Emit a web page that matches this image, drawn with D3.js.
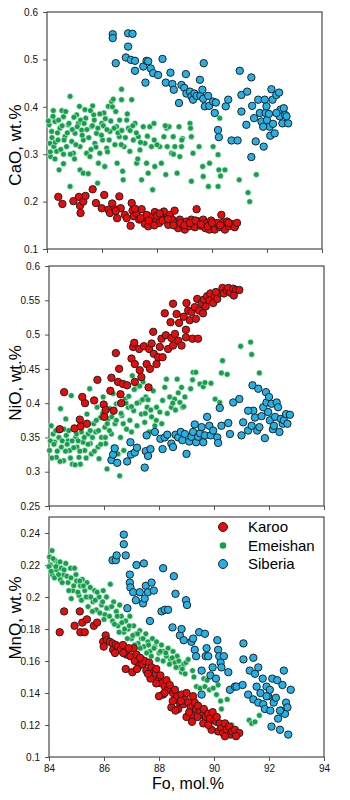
<!DOCTYPE html>
<html>
<head>
<meta charset="utf-8">
<script src="https://cdn.jsdelivr.net/npm/d3@7"></script>
<style>
  body { margin: 0; background: #fff; }
  svg { display: block; font-family: Arial, "Liberation Sans", sans-serif; }
  .axis text { font-size: 10px; fill: #111; }
  .axis line { stroke: #555; }
</style>
</head>
<body>
<div class="chart"></div>
<script>
// ---- data : [Fo mol.%, oxide wt.%] ----
const foTicks = [84, 86, 88, 90, 92, 94];
const caoTicks = [0.1, 0.2, 0.3, 0.4, 0.5, 0.6];
const nioTicks = [0.25, 0.3, 0.35, 0.4, 0.45, 0.5, 0.55, 0.6];
const mnoTicks = [0.1, 0.12, 0.14, 0.16, 0.18, 0.2, 0.22, 0.24];
const seriesNames = ['Karoo', 'Emeishan', 'Siberia'];

const karooCaO = [[84.41,0.21],[84.56,0.195],[84.96,0.201],[85.16,0.21],[85.2,0.191],[85.22,0.176],[85.32,0.2],[85.4,0.212],[85.66,0.226],[85.78,0.197],[85.99,0.186],[86.08,0.214],[86.23,0.183],[86.29,0.176],[86.37,0.196],[86.47,0.184],[86.55,0.165],[86.63,0.211],[86.68,0.186],[86.83,0.172],[87.04,0.149],[87.08,0.197],[87.11,0.181],[87.16,0.169],[87.26,0.176],[87.35,0.162],[87.44,0.184],[87.5,0.162],[87.56,0.153],[87.62,0.172],[87.68,0.148],[87.77,0.158],[87.84,0.169],[87.92,0.178],[87.98,0.162],[88.08,0.155],[88.16,0.169],[88.25,0.179],[88.32,0.162],[88.41,0.151],[88.47,0.172],[88.56,0.162],[88.64,0.181],[88.71,0.155],[88.77,0.144],[88.83,0.162],[88.93,0.151],[89.01,0.141],[89.07,0.158],[89.17,0.148],[89.25,0.162],[89.31,0.153],[89.38,0.146],[89.44,0.184],[89.52,0.158],[89.59,0.149],[89.68,0.162],[89.76,0.144],[89.82,0.155],[89.9,0.141],[89.97,0.16],[90.04,0.149],[90.1,0.141],[90.19,0.155],[90.28,0.146],[90.34,0.172],[90.4,0.156],[90.47,0.141],[90.55,0.158],[90.62,0.148],[90.71,0.153],[90.83,0.146],[90.91,0.155],[87.4,0.165],[87.7,0.16],[87.9,0.15],[88.0,0.17],[88.2,0.16],[88.4,0.163],[88.6,0.15],[88.85,0.155],[89.0,0.15],[89.2,0.155],[89.4,0.16],[89.6,0.152],[89.85,0.148],[90.0,0.155],[90.3,0.15],[90.6,0.155],[86.9,0.165],[87.2,0.185],[86.5,0.18],[88.1,0.175]];

const emeishanCaO = [[84.84,0.422],[84.08,0.362],[84.23,0.392],[84.2,0.379],[84.29,0.369],[84.17,0.348],[84.11,0.323],[84.25,0.316],[84.35,0.306],[84.13,0.295],[84.29,0.29],[84.44,0.267],[84.6,0.28],[84.47,0.355],[84.6,0.379],[84.54,0.392],[84.65,0.337],[84.71,0.316],[84.77,0.362],[84.84,0.232],[84.9,0.327],[84.96,0.302],[85.02,0.344],[85.08,0.383],[85.14,0.365],[85.18,0.401],[85.2,0.316],[85.26,0.351],[85.32,0.33],[85.38,0.394],[85.41,0.376],[85.44,0.302],[85.2,0.267],[85.32,0.26],[85.5,0.259],[85.56,0.295],[85.62,0.358],[85.66,0.402],[85.7,0.383],[85.8,0.344],[85.74,0.323],[85.84,0.239],[85.87,0.281],[85.92,0.302],[85.99,0.365],[86.02,0.33],[86.07,0.387],[86.1,0.274],[86.17,0.313],[86.23,0.401],[86.29,0.348],[86.35,0.411],[86.41,0.416],[86.47,0.32],[86.53,0.358],[86.55,0.281],[86.63,0.337],[86.71,0.437],[86.71,0.415],[86.75,0.264],[86.77,0.246],[86.8,0.316],[86.9,0.372],[86.96,0.355],[87.01,0.306],[87.08,0.415],[87.14,0.33],[87.2,0.365],[87.26,0.281],[87.32,0.337],[87.38,0.309],[87.44,0.246],[87.5,0.358],[87.56,0.323],[87.62,0.281],[87.68,0.26],[87.74,0.358],[87.8,0.316],[87.84,0.225],[87.89,0.365],[87.92,0.274],[88.1,0.316],[88.16,0.281],[88.25,0.337],[88.35,0.355],[88.37,0.316],[88.44,0.358],[88.32,0.257],[88.53,0.302],[88.59,0.337],[88.65,0.316],[88.73,0.26],[88.8,0.358],[88.83,0.295],[88.89,0.316],[88.93,0.333],[89.2,0.365],[89.22,0.355],[89.25,0.337],[89.25,0.243],[89.31,0.302],[89.53,0.316],[89.66,0.274],[89.68,0.253],[89.87,0.232],[89.91,0.281],[90.04,0.316],[90.22,0.299],[90.25,0.267],[90.28,0.376],[90.31,0.254],[90.22,0.232],[90.47,0.267],[90.99,0.246],[91.31,0.219],[91.37,0.2],[91.61,0.257],
  [84.05,0.37],[84.12,0.305],[84.18,0.335],[84.22,0.38],[84.3,0.325],[84.38,0.345],[84.42,0.372],[84.5,0.31],[84.55,0.36],[84.62,0.33],[84.68,0.39],[84.74,0.345],[84.8,0.365],[84.85,0.3],[84.92,0.352],[84.98,0.378],[85.05,0.32],[85.1,0.358],[85.22,0.372],[85.28,0.34],[85.35,0.365],[85.45,0.352],[85.52,0.335],[85.58,0.392],[85.65,0.36],[85.72,0.372],[85.78,0.315],[85.85,0.355],[85.92,0.385],[85.98,0.34],[86.05,0.36],[86.12,0.375],[86.18,0.352],[86.26,0.33],[86.32,0.37],[86.38,0.4],[86.44,0.355],[86.5,0.39],[86.58,0.345],[86.64,0.372],[86.72,0.35],[86.85,0.335],[86.92,0.385],[87.02,0.35],[87.12,0.36],[87.25,0.345],[87.4,0.325],[87.65,0.338],[88.0,0.32],[88.6,0.3],[88.9,0.33],[88.3,0.36],[84.6,0.3],[84.4,0.33],[85.0,0.29],[85.6,0.31],[86.2,0.305],[86.7,0.32],[87.3,0.29],[87.9,0.33]];

const siberiaCaO = [[86.39,0.553],[86.39,0.545],[86.5,0.492],[86.95,0.555],[87.11,0.554],[86.95,0.527],[86.87,0.504],[87.05,0.499],[87.2,0.497],[87.2,0.476],[87.5,0.485],[87.62,0.497],[87.68,0.496],[87.58,0.451],[87.77,0.481],[87.86,0.471],[88.04,0.467],[88.2,0.501],[88.32,0.451],[88.49,0.472],[88.56,0.448],[88.61,0.436],[88.8,0.408],[88.89,0.446],[88.99,0.44],[89.05,0.469],[89.07,0.428],[89.2,0.432],[89.25,0.422],[89.31,0.415],[89.36,0.428],[89.44,0.423],[89.56,0.457],[89.58,0.423],[89.65,0.436],[89.68,0.417],[89.7,0.492],[89.74,0.401],[89.86,0.423],[89.9,0.402],[90.04,0.411],[90.14,0.409],[90.1,0.387],[90.22,0.351],[90.25,0.336],[90.5,0.401],[90.59,0.415],[90.71,0.329],[90.93,0.329],[91.01,0.476],[91.07,0.425],[91.07,0.39],[91.25,0.362],[91.28,0.432],[91.43,0.462],[91.46,0.402],[91.53,0.376],[91.59,0.327],[91.43,0.294],[91.68,0.415],[91.74,0.387],[91.8,0.369],[91.88,0.316],[91.92,0.415],[91.95,0.387],[92.0,0.372],[92.07,0.385],[92.1,0.358],[92.12,0.339],[92.16,0.437],[92.2,0.415],[92.22,0.364],[92.28,0.344],[92.34,0.425],[92.44,0.43],[92.46,0.38],[92.49,0.394],[92.56,0.365],[92.61,0.397],[92.66,0.383],[92.71,0.38],[92.77,0.365],[92.34,0.387],[91.98,0.401],[91.86,0.358]];

const karooNiO = [[84.39,0.362],[84.55,0.416],[84.93,0.363],[85.12,0.376],[85.15,0.366],[85.21,0.409],[85.31,0.4],[85.38,0.37],[85.64,0.404],[85.76,0.434],[85.99,0.398],[86.01,0.38],[86.06,0.39],[86.27,0.437],[86.23,0.418],[86.35,0.389],[86.43,0.473],[86.51,0.431],[86.55,0.45],[86.6,0.413],[86.63,0.4],[86.69,0.428],[86.84,0.426],[87.0,0.465],[87.06,0.482],[87.1,0.488],[87.12,0.457],[87.12,0.431],[87.28,0.479],[87.3,0.448],[87.36,0.438],[87.45,0.483],[87.55,0.457],[87.62,0.423],[87.64,0.479],[87.67,0.45],[87.73,0.487],[87.79,0.504],[87.81,0.472],[87.91,0.457],[87.97,0.467],[88.03,0.482],[88.09,0.494],[88.13,0.467],[88.21,0.531],[88.25,0.499],[88.33,0.479],[88.42,0.518],[88.45,0.495],[88.51,0.545],[88.51,0.484],[88.58,0.501],[88.64,0.53],[88.7,0.491],[88.73,0.517],[88.82,0.484],[88.9,0.526],[88.98,0.496],[89.0,0.546],[89.06,0.535],[89.12,0.521],[89.18,0.533],[89.22,0.494],[89.3,0.54],[89.34,0.523],[89.39,0.552],[89.42,0.494],[89.46,0.535],[89.55,0.546],[89.63,0.551],[89.7,0.541],[89.75,0.556],[89.83,0.55],[89.87,0.56],[89.97,0.546],[90.03,0.556],[90.12,0.552],[90.21,0.561],[90.31,0.568],[90.36,0.56],[90.46,0.565],[90.52,0.568],[90.6,0.561],[90.7,0.567],[90.8,0.565],[90.92,0.565],[90.72,0.557],[90.07,0.562],[89.6,0.531],[88.98,0.507]];

const emeishanNiO = [[84.02,0.331],[84.08,0.367],[84.15,0.355],[84.21,0.343],[84.27,0.321],[84.33,0.36],[84.42,0.392],[84.45,0.336],[84.53,0.316],[84.61,0.377],[84.63,0.353],[84.69,0.345],[84.75,0.331],[84.81,0.411],[84.85,0.311],[84.9,0.365],[84.97,0.35],[85.02,0.336],[85.09,0.321],[85.14,0.311],[85.18,0.358],[85.24,0.343],[85.3,0.331],[85.38,0.384],[85.42,0.355],[85.48,0.421],[85.5,0.341],[85.54,0.326],[85.63,0.37],[85.7,0.358],[85.75,0.394],[85.78,0.336],[85.82,0.319],[85.87,0.379],[85.91,0.35],[85.97,0.409],[86.03,0.365],[86.06,0.341],[86.11,0.304],[86.15,0.377],[86.21,0.392],[86.27,0.355],[86.33,0.414],[86.35,0.336],[86.4,0.37],[86.45,0.399],[86.51,0.326],[86.57,0.294],[86.6,0.35],[86.65,0.382],[86.72,0.331],[86.77,0.406],[86.82,0.362],[86.88,0.394],[86.94,0.375],[87.0,0.358],[87.03,0.44],[87.08,0.389],[87.16,0.423],[87.2,0.367],[87.28,0.401],[87.36,0.384],[87.42,0.431],[87.48,0.372],[87.52,0.409],[87.57,0.394],[87.64,0.358],[87.73,0.38],[87.79,0.418],[87.85,0.367],[87.91,0.394],[88.03,0.387],[88.13,0.404],[88.21,0.423],[88.27,0.435],[88.39,0.409],[88.45,0.394],[88.57,0.406],[88.66,0.435],[88.76,0.401],[88.82,0.423],[88.86,0.394],[88.94,0.409],[89.15,0.421],[89.22,0.434],[89.24,0.445],[89.34,0.445],[89.49,0.428],[89.61,0.424],[89.67,0.43],[89.89,0.429],[90.04,0.406],[90.21,0.401],[90.27,0.444],[90.31,0.462],[90.48,0.442],[90.97,0.483],[91.33,0.489],[91.37,0.471],[91.65,0.444],
  [84.05,0.345],[84.1,0.32],[84.18,0.34],[84.25,0.36],[84.3,0.33],[84.36,0.35],[84.4,0.315],[84.48,0.345],[84.55,0.362],[84.6,0.33],[84.66,0.34],[84.72,0.36],[84.78,0.32],[84.84,0.345],[84.9,0.335],[84.95,0.31],[85.0,0.355],[85.06,0.345],[85.12,0.33],[85.2,0.368],[85.28,0.35],[85.35,0.32],[85.42,0.34],[85.5,0.36],[85.58,0.35],[85.65,0.33],[85.72,0.375],[85.8,0.36],[85.88,0.34],[85.95,0.385],[86.05,0.35],[86.12,0.37],[86.2,0.36],[86.28,0.38],[86.36,0.39],[86.45,0.375],[86.55,0.4],[86.62,0.385],[86.7,0.37],[86.8,0.4],[86.9,0.41],[87.0,0.395],[87.1,0.42],[87.2,0.4],[87.3,0.425],[87.4,0.405],[87.5,0.385],[87.6,0.405],[87.7,0.39],[87.9,0.375],[88.1,0.37],[88.3,0.385],[88.5,0.4],[88.6,0.39],[88.7,0.415],[88.9,0.395]];

const siberiaNiO = [[86.27,0.317],[86.33,0.325],[86.39,0.334],[86.48,0.313],[86.84,0.315],[86.96,0.343],[86.98,0.325],[87.12,0.328],[87.2,0.335],[87.48,0.306],[87.52,0.33],[87.55,0.353],[87.6,0.323],[87.69,0.333],[87.85,0.358],[88.05,0.348],[88.13,0.333],[88.21,0.35],[88.3,0.354],[88.45,0.341],[88.51,0.336],[88.6,0.354],[88.7,0.35],[88.79,0.358],[88.85,0.346],[88.94,0.355],[89.0,0.326],[89.1,0.344],[89.18,0.351],[89.24,0.358],[89.3,0.369],[89.35,0.343],[89.42,0.351],[89.49,0.356],[89.55,0.365],[89.61,0.343],[89.67,0.353],[89.75,0.38],[89.83,0.367],[89.88,0.353],[89.97,0.36],[90.12,0.35],[90.15,0.342],[90.21,0.393],[90.27,0.367],[90.52,0.371],[90.58,0.355],[90.7,0.401],[90.92,0.406],[91.0,0.353],[91.06,0.372],[91.24,0.36],[91.4,0.426],[91.43,0.389],[91.49,0.379],[91.57,0.36],[91.61,0.421],[91.65,0.365],[91.73,0.381],[91.79,0.394],[91.85,0.349],[91.89,0.416],[91.91,0.401],[91.97,0.387],[92.0,0.409],[92.03,0.375],[92.09,0.399],[92.14,0.362],[92.18,0.367],[92.22,0.38],[92.28,0.401],[92.33,0.394],[92.38,0.358],[92.43,0.377],[92.5,0.37],[92.54,0.375],[92.62,0.384],[92.67,0.37],[92.76,0.383],[91.37,0.367],[91.24,0.389]];

const karooMnO = [[84.39,0.178],[84.55,0.191],[84.93,0.182],[85.12,0.191],[85.14,0.178],[85.21,0.184],[85.3,0.178],[85.38,0.186],[85.63,0.182],[85.75,0.184],[86.06,0.176],[85.97,0.172],[85.99,0.169],[86.11,0.173],[86.21,0.172],[86.31,0.171],[86.33,0.167],[86.43,0.17],[86.51,0.169],[86.6,0.167],[86.69,0.17],[86.79,0.155],[86.82,0.164],[86.96,0.163],[87.03,0.153],[87.08,0.168],[87.12,0.16],[87.18,0.164],[87.28,0.157],[87.36,0.161],[87.4,0.158],[87.48,0.16],[87.54,0.154],[87.64,0.159],[87.69,0.149],[87.73,0.156],[87.81,0.153],[87.88,0.152],[87.97,0.148],[88.05,0.151],[88.09,0.146],[88.15,0.139],[88.21,0.144],[88.27,0.148],[88.33,0.142],[88.39,0.145],[88.45,0.131],[88.51,0.14],[88.58,0.142],[88.66,0.138],[88.7,0.13],[88.76,0.134],[88.82,0.139],[88.88,0.133],[88.94,0.136],[89.0,0.14],[89.06,0.134],[89.15,0.131],[89.18,0.126],[89.24,0.138],[89.3,0.134],[89.35,0.13],[89.42,0.132],[89.49,0.128],[89.58,0.126],[89.63,0.13],[89.7,0.125],[89.79,0.127],[89.85,0.124],[89.95,0.128],[90.03,0.123],[90.09,0.122],[90.15,0.116],[90.21,0.121],[90.27,0.118],[90.33,0.115],[90.4,0.121],[90.46,0.117],[90.55,0.119],[90.6,0.114],[90.67,0.116],[90.76,0.117],[90.92,0.115],[89.91,0.117],[89.61,0.121],[89.0,0.125],[87.9,0.146],[87.31,0.162],
  [86.4,0.165],[86.7,0.165],[86.9,0.168],[87.2,0.155],[87.6,0.152],[87.9,0.155],[88.2,0.14],[88.5,0.135],[88.8,0.135],[89.1,0.128],[89.4,0.125],[89.8,0.12],[90.1,0.125],[90.4,0.113],[90.8,0.113],[88.6,0.129],[88.0,0.138],[89.2,0.122]];

const emeishanMnO = [[84.02,0.225],[84.11,0.229],[84.05,0.22],[84.12,0.214],[84.21,0.223],[84.27,0.217],[84.33,0.221],[84.41,0.211],[84.45,0.218],[84.53,0.214],[84.61,0.221],[84.69,0.209],[84.78,0.218],[84.81,0.199],[84.87,0.204],[84.93,0.218],[85.0,0.21],[85.09,0.201],[85.14,0.207],[85.21,0.211],[85.3,0.204],[85.38,0.209],[85.46,0.2],[85.5,0.206],[85.6,0.197],[85.66,0.204],[85.72,0.192],[85.82,0.2],[85.91,0.195],[85.97,0.204],[86.03,0.189],[86.09,0.2],[86.15,0.193],[86.23,0.208],[86.31,0.185],[86.35,0.197],[86.45,0.191],[86.51,0.182],[86.57,0.195],[86.63,0.188],[86.72,0.178],[86.79,0.185],[86.88,0.18],[86.94,0.188],[87.0,0.174],[87.08,0.182],[87.16,0.177],[87.24,0.171],[87.3,0.179],[87.36,0.174],[87.45,0.169],[87.52,0.177],[87.6,0.172],[87.67,0.166],[87.76,0.174],[87.85,0.169],[87.91,0.172],[88.0,0.165],[88.09,0.17],[88.17,0.166],[88.27,0.163],[88.33,0.168],[88.42,0.161],[88.51,0.166],[88.58,0.159],[88.66,0.163],[88.76,0.156],[88.82,0.153],[88.9,0.158],[88.98,0.159],[89.06,0.161],[89.22,0.154],[89.27,0.15],[89.36,0.144],[89.49,0.143],[89.63,0.149],[89.67,0.144],[89.75,0.148],[89.83,0.142],[89.97,0.143],[90.09,0.139],[90.24,0.135],[90.27,0.13],[90.15,0.145],[90.48,0.136],[90.64,0.12],[91.28,0.123],[91.37,0.121],[91.49,0.122],[91.65,0.126],
  [84.0,0.219],[84.08,0.216],[84.15,0.224],[84.2,0.212],[84.25,0.219],[84.35,0.214],[84.4,0.222],[84.48,0.209],[84.55,0.217],[84.65,0.213],[84.72,0.204],[84.8,0.212],[84.9,0.207],[84.98,0.214],[85.05,0.203],[85.12,0.21],[85.18,0.198],[85.25,0.207],[85.35,0.2],[85.42,0.194],[85.52,0.2],[85.58,0.191],[85.68,0.198],[85.75,0.203],[85.85,0.19],[85.95,0.197],[86.0,0.186],[86.1,0.193],[86.2,0.188],[86.28,0.194],[86.38,0.183],[86.48,0.188],[86.55,0.178],[86.65,0.184],[86.75,0.18],[86.85,0.174],[86.92,0.182],[87.05,0.176],[87.12,0.17],[87.22,0.177],[87.32,0.168],[87.42,0.174],[87.55,0.165],[87.62,0.17],[87.72,0.163],[87.82,0.168],[87.95,0.161],[88.05,0.166],[88.15,0.16],[88.25,0.165],[88.38,0.158],[88.48,0.162],[88.62,0.156],[88.72,0.16],[88.85,0.155],[88.95,0.152]];

const siberiaMnO = [[86.31,0.223],[86.43,0.223],[86.46,0.226],[86.72,0.239],[86.72,0.233],[86.79,0.226],[86.85,0.193],[86.94,0.214],[86.94,0.209],[86.96,0.206],[87.06,0.203],[87.16,0.198],[87.18,0.22],[87.3,0.203],[87.42,0.196],[87.45,0.221],[87.48,0.199],[87.52,0.207],[87.6,0.203],[87.67,0.185],[87.73,0.209],[87.81,0.204],[88.09,0.191],[88.15,0.218],[88.21,0.192],[88.33,0.192],[88.49,0.181],[88.54,0.213],[88.6,0.202],[88.76,0.176],[88.82,0.18],[88.9,0.173],[88.98,0.198],[89.02,0.195],[89.18,0.172],[89.24,0.174],[89.3,0.167],[89.35,0.163],[89.46,0.178],[89.55,0.154],[89.55,0.139],[89.67,0.177],[89.7,0.163],[89.73,0.168],[89.79,0.163],[89.87,0.151],[89.95,0.156],[90.07,0.149],[90.12,0.173],[90.15,0.167],[90.19,0.163],[90.24,0.159],[90.27,0.156],[90.36,0.163],[90.52,0.153],[90.58,0.142],[90.76,0.144],[90.82,0.144],[91.04,0.145],[91.07,0.171],[91.07,0.161],[91.24,0.139],[91.3,0.154],[91.43,0.162],[91.43,0.136],[91.49,0.152],[91.55,0.144],[91.61,0.156],[91.61,0.134],[91.69,0.14],[91.77,0.149],[91.79,0.133],[91.85,0.13],[91.91,0.144],[91.97,0.138],[92.03,0.142],[92.05,0.129],[92.09,0.119],[92.12,0.149],[92.17,0.134],[92.25,0.137],[92.3,0.148],[92.33,0.124],[92.4,0.117],[92.45,0.129],[92.49,0.145],[92.54,0.154],[92.58,0.127],[92.62,0.134],[92.67,0.131],[92.7,0.114],[92.79,0.142],[92.4,0.129],[91.91,0.138]];

// ---- drawing ----
const colors = { Karoo: '#ee0a0a', Emeishan: '#12a04a', Siberia: '#22b2ea' };

const svg = d3.select('div.chart').append('svg')
    .attr('width', 350)
    .attr('height', 800);

function dots(g, data, name, x, y) {
    const big = name !== 'Emeishan';
    g.append('g').selectAll('circle')
        .data(data)
        .enter()
        .append('circle')
            .attr('cx', d => x(d[0]))
            .attr('cy', d => y(d[1]))
            .attr('r', big ? 3.7 : 2.9)
            .attr('fill', colors[name])
            .attr('stroke', big ? '#222' : '#e6f5ea')
            .attr('stroke-width', big ? 1 : 0.6);
}

function plot(p) {
    const x = d3.scaleLinear().domain([84, 94]).range([p.left, p.right]);
    const y = d3.scaleLinear().domain(p.domain).range([p.bottom, p.top]);
    const g = svg.append('g');

    const xAxis = d3.axisBottom(x).tickValues(foTicks).tickSize(4).tickPadding(4);
    if (!p.xLabels) xAxis.tickFormat('');
    g.append('g')
        .attr('class', 'axis')
        .attr('transform', `translate(0,${p.bottom})`)
        .call(xAxis)
        .call(a => a.select('.domain').remove());

    g.append('g')
        .attr('class', 'axis')
        .attr('transform', `translate(${p.left},0)`)
        .call(d3.axisLeft(y).tickValues(p.ticks).tickSize(4).tickPadding(5).tickFormat(d => +d.toFixed(2)))
        .call(a => a.select('.domain').remove());

    g.append('rect')
        .attr('x', p.left).attr('y', p.top)
        .attr('width', p.right - p.left).attr('height', p.bottom - p.top)
        .attr('fill', 'none').attr('stroke', '#4a4a4a').attr('stroke-width', 1.2);

    dots(g, p.series[1], 'Emeishan', x, y);
    dots(g, p.series[2], 'Siberia', x, y);
    dots(g, p.series[0], 'Karoo', x, y);

    g.append('text')
        .attr('transform', `translate(21,${p.labelY}) rotate(-90)`)
        .attr('text-anchor', 'middle')
        .style('font-size', '17px')
        .text(p.label);
}

plot({ left: 47, right: 322, top: 12, bottom: 249, domain: [0.1, 0.6], ticks: caoTicks,
       series: [karooCaO, emeishanCaO, siberiaCaO], label: 'CaO, wt.%', labelY: 145 });
plot({ left: 49, right: 324, top: 266, bottom: 506, domain: [0.25, 0.6], ticks: nioTicks,
       series: [karooNiO, emeishanNiO, siberiaNiO], label: 'NiO, wt.%', labelY: 383 });
plot({ left: 49, right: 324, top: 517, bottom: 757, domain: [0.1, 0.25], ticks: mnoTicks,
       series: [karooMnO, emeishanMnO, siberiaMnO], label: 'MnO, wt.%', labelY: 618, xLabels: true });

svg.append('text')
    .attr('x', 188).attr('y', 789)
    .attr('text-anchor', 'middle')
    .style('font-size', '16px')
    .text('Fo, mol.%');

// legend
const legend = svg.append('g').attr('transform', 'translate(223,527)');
seriesNames.forEach((name, i) => {
    const row = legend.append('g').attr('transform', `translate(0,${i * 18.5})`);
    row.append('circle')
        .attr('r', name === 'Emeishan' ? 3.3 : 4.5)
        .attr('fill', colors[name])
        .attr('stroke', name === 'Emeishan' ? 'none' : '#222');
    row.append('text')
        .attr('x', 25).attr('y', 5)
        .style('font-size', '15px')
        .text(name);
});
</script>
</body>
</html>
